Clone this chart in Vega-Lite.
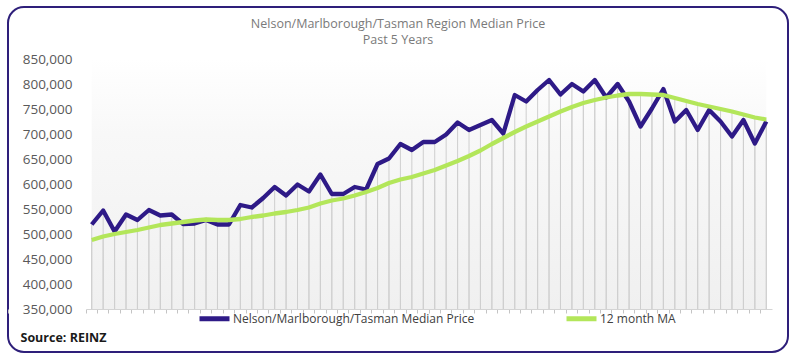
{
  "$schema": "https://vega.github.io/schema/vega-lite/v6.json",
  "width": 780,
  "height": 345,
  "autosize": {"type": "none"},
  "padding": {"left": 8, "top": 7, "right": 5, "bottom": 5},
  "background": "white",
  "config": {
    "view": {"stroke": "#2e1f7a", "strokeWidth": 2, "cornerRadius": 16, "fill": "white"},
    "font": "Open Sans",
    "axisY": {
      "tickCount": 10,
      "format": ",.0f",
      "labelOverlap": false,
      "labelFontSize": 13.5,
      "labelColor": "#595959",
      "labelPadding": 14,
      "domain": false,
      "ticks": false,
      "grid": false
    }
  },
  "title": {
    "text": "Nelson/Marlborough/Tasman Region Median Price",
    "subtitle": "Past 5 Years",
    "fontSize": 12.5,
    "fontWeight": "normal",
    "color": "#7a7a7a",
    "subtitleFontSize": 12.5,
    "subtitleColor": "#7a7a7a",
    "subtitlePadding": 3.5,
    "offset": -39,
    "anchor": "middle",
    "frame": "group"
  },
  "data": {
    "values": [
      {"m": 1, "median": 519000, "ma": 488000},
      {"m": 2, "median": 547000, "ma": 495000},
      {"m": 3, "median": 505000, "ma": 500000},
      {"m": 4, "median": 539000, "ma": 504000},
      {"m": 5, "median": 528000, "ma": 508000},
      {"m": 6, "median": 548000, "ma": 513000},
      {"m": 7, "median": 537000, "ma": 518000},
      {"m": 8, "median": 539000, "ma": 521000},
      {"m": 9, "median": 520000, "ma": 524000},
      {"m": 10, "median": 521000, "ma": 527000},
      {"m": 11, "median": 528000, "ma": 529000},
      {"m": 12, "median": 519000, "ma": 528000},
      {"m": 13, "median": 519000, "ma": 528000},
      {"m": 14, "median": 558000, "ma": 530000},
      {"m": 15, "median": 553000, "ma": 534000},
      {"m": 16, "median": 572000, "ma": 537000},
      {"m": 17, "median": 594000, "ma": 541000},
      {"m": 18, "median": 577000, "ma": 544000},
      {"m": 19, "median": 599000, "ma": 548000},
      {"m": 20, "median": 585000, "ma": 553000},
      {"m": 21, "median": 619000, "ma": 561000},
      {"m": 22, "median": 580000, "ma": 567000},
      {"m": 23, "median": 580000, "ma": 571000},
      {"m": 24, "median": 594000, "ma": 577000},
      {"m": 25, "median": 589000, "ma": 584000},
      {"m": 26, "median": 640000, "ma": 592000},
      {"m": 27, "median": 651000, "ma": 602000},
      {"m": 28, "median": 680000, "ma": 609000},
      {"m": 29, "median": 668000, "ma": 614000},
      {"m": 30, "median": 684000, "ma": 621000},
      {"m": 31, "median": 684000, "ma": 628000},
      {"m": 32, "median": 699000, "ma": 637000},
      {"m": 33, "median": 723000, "ma": 646000},
      {"m": 34, "median": 708000, "ma": 656000},
      {"m": 35, "median": 718000, "ma": 667000},
      {"m": 36, "median": 728000, "ma": 680000},
      {"m": 37, "median": 701000, "ma": 692000},
      {"m": 38, "median": 778000, "ma": 704000},
      {"m": 39, "median": 765000, "ma": 715000},
      {"m": 40, "median": 788000, "ma": 725000},
      {"m": 41, "median": 808000, "ma": 735000},
      {"m": 42, "median": 779000, "ma": 745000},
      {"m": 43, "median": 800000, "ma": 754000},
      {"m": 44, "median": 785000, "ma": 762000},
      {"m": 45, "median": 808000, "ma": 768000},
      {"m": 46, "median": 773000, "ma": 773000},
      {"m": 47, "median": 800000, "ma": 777000},
      {"m": 48, "median": 765000, "ma": 780000},
      {"m": 49, "median": 715000, "ma": 780000},
      {"m": 50, "median": 751000, "ma": 779000},
      {"m": 51, "median": 790000, "ma": 778000},
      {"m": 52, "median": 725000, "ma": 772000},
      {"m": 53, "median": 748000, "ma": 766000},
      {"m": 54, "median": 708000, "ma": 760000},
      {"m": 55, "median": 748000, "ma": 755000},
      {"m": 56, "median": 725000, "ma": 750000},
      {"m": 57, "median": 695000, "ma": 745000},
      {"m": 58, "median": 728000, "ma": 739000},
      {"m": 59, "median": 681000, "ma": 733000},
      {"m": 60, "median": 725000, "ma": 729000}
    ]
  },
  "encoding": {
    "x": {
      "field": "m",
      "type": "ordinal",
      "scale": {"type": "band", "range": [78, 764], "paddingInner": 0, "paddingOuter": 0},
      "axis": {
        "title": "Source: REINZ",
        "titleAnchor": "start",
        "titleAlign": "left",
        "titleX": 12,
        "titleY": 28,
        "titleBaseline": "middle",
        "titleFontSize": 12.5,
        "titleFontWeight": "bold",
        "titleColor": "#1a1a1a",
        "labels": false,
        "ticks": true,
        "tickColor": "#c4c4c4",
        "tickSize": 4,
        "domainColor": "#d4d4d4",
        "bandPosition": 0,
        "tickExtra": true,
        "offset": -43,
        "grid": false
      }
    }
  },
  "layer": [
    {
      "mark": {
        "type": "area",
        "color": {
          "gradient": "linear",
          "x1": 0, "y1": 0, "x2": 0, "y2": 1,
          "stops": [
            {"offset": 0, "color": "#ffffff"},
            {"offset": 0.3, "color": "#f8f8f8"},
            {"offset": 1, "color": "#f0f0f0"}
          ]
        }
      },
      "encoding": {
        "y": {
          "datum": 850000,
          "type": "quantitative",
          "scale": {"domain": [350000, 850000], "range": [302, 52], "nice": false, "zero": false},
          "axis": {
            "title": null,
            "offset": -78,
            "tickCount": 10,
            "format": ",.0f",
            "labelOverlap": false
          }
        },
        "y2": {"datum": 350000}
      }
    },
    {
      "transform": [{"fold": ["median", "ma"], "as": ["series", "price"]}],
      "mark": {"type": "rule", "color": "#cfcfcf", "strokeWidth": 1},
      "encoding": {
        "y": {"field": "price", "type": "quantitative"},
        "y2": {"datum": 350000}
      }
    },
    {
      "transform": [{"fold": ["median", "ma"], "as": ["series", "price"]}],
      "mark": {"type": "line", "strokeWidth": 4.3, "strokeJoin": "round"},
      "encoding": {
        "y": {"field": "price", "type": "quantitative"},
        "color": {
          "field": "series",
          "type": "nominal",
          "scale": {"domain": ["median", "ma"], "range": ["#2e1a87", "#b3e65a"]},
          "legend": {
            "orient": "none",
            "legendX": 189,
            "legendY": 294,
            "direction": "horizontal",
            "title": null,
            "symbolType": "stroke",
            "symbolSize": 900,
            "symbolStrokeWidth": 5,
            "labelFontSize": 12,
            "labelColor": "#404040",
            "labelOffset": 1,
            "columnPadding": 81,
            "labelLimit": 400,
            "labelExpr": "datum.value == 'median' ? 'Nelson/Marlborough/Tasman Median Price' : '12 month MA'"
          }
        }
      }
    }
  ]
}
